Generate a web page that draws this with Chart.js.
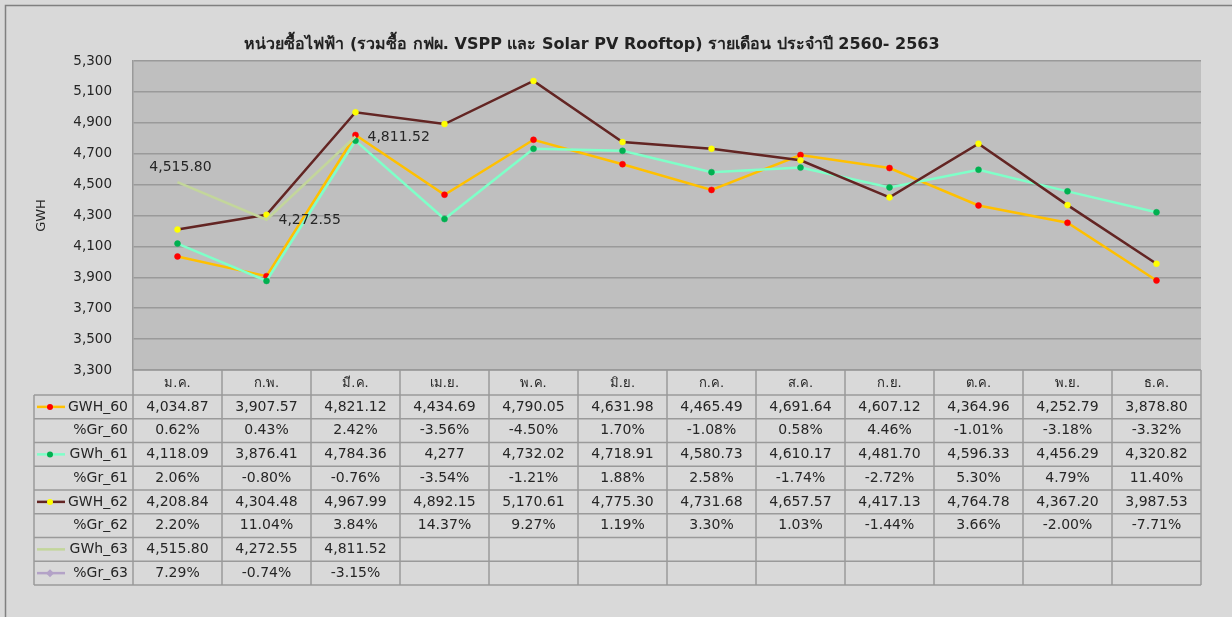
<!doctype html>
<html>
<head>
    <title>หน่วยซื้อไฟฟ้า</title>
    <script src="https://cdn.jsdelivr.net/npm/chart.js@4/dist/chart.umd.min.js"></script>
    <style>
    body{
        margin: 0;
        background: #d9d9d9;
        font-family: "DejaVu Sans", Tahoma, sans-serif;
    }
    </style>
</head>
<body>
    <canvas id="chart-area" width="1232" height="617"></canvas>
    <script>
    // data
    var months = ['ม.ค.','ก.พ.','มี.ค.','เม.ย.','พ.ค.','มิ.ย.','ก.ค.','ส.ค.','ก.ย.','ต.ค.','พ.ย.','ธ.ค.'];
    var gwh60 = [4034.87,3907.57,4821.12,4434.69,4790.05,4631.98,4465.49,4691.64,4607.12,4364.96,4252.79,3878.80];
    var gr60  = [0.62,0.43,2.42,-3.56,-4.50,1.70,-1.08,0.58,4.46,-1.01,-3.18,-3.32];
    var gwh61 = [4118.09,3876.41,4784.36,4277,4732.02,4718.91,4580.73,4610.17,4481.70,4596.33,4456.29,4320.82];
    var gr61  = [2.06,-0.80,-0.76,-3.54,-1.21,1.88,2.58,-1.74,-2.72,5.30,4.79,11.40];
    var gwh62 = [4208.84,4304.48,4967.99,4892.15,5170.61,4775.30,4731.68,4657.57,4417.13,4764.78,4367.20,3987.53];
    var gr62  = [2.20,11.04,3.84,14.37,9.27,1.19,3.30,1.03,-1.44,3.66,-2.00,-7.71];
    var gwh63 = [4515.80,4272.55,4811.52];
    var gr63  = [7.29,-0.74,-3.15];

    var titleText = 'หน่วยซื้อไฟฟ้า (รวมซื้อ กฟผ. VSPP และ Solar PV Rooftop) รายเดือน ประจำปี 2560- 2563';
    var FONT = '"DejaVu Sans", Tahoma, sans-serif';

    var C60 = '#ffc000', M60 = '#ff0000';
    var C61 = '#7fffc8', M61 = '#00b050';
    var C62 = '#632523', M62 = '#ffff00';
    var C63 = '#c3d69b';
    var C63g = '#b3a2c7';

    function fmtGwh(v){
        if (Number.isInteger(v)) return v.toLocaleString('en-US');
        return v.toLocaleString('en-US', {minimumFractionDigits: 2, maximumFractionDigits: 2});
    }
    function fmtPct(v){
        return v.toFixed(2) + '%';
    }

    // rows of the data table, label + legend key
    var tableRows = [
        {label: 'GWH_60', vals: gwh60, fmt: fmtGwh, line: C60, marker: M60, shape: 'circle'},
        {label: '%Gr_60', vals: gr60, fmt: fmtPct},
        {label: 'GWh_61', vals: gwh61, fmt: fmtGwh, line: C61, marker: M61, shape: 'circle'},
        {label: '%Gr_61', vals: gr61, fmt: fmtPct},
        {label: 'GWH_62', vals: gwh62, fmt: fmtGwh, line: C62, marker: M62, shape: 'circle'},
        {label: '%Gr_62', vals: gr62, fmt: fmtPct},
        {label: 'GWh_63', vals: gwh63, fmt: fmtGwh, line: C63},
        {label: '%Gr_63', vals: gr63, fmt: fmtPct, line: C63g, marker: C63g, shape: 'diamond'}
    ];

    var bgPlugin = {
        id: 'bg',
        beforeDraw: function(chart){
            var ctx = chart.ctx, a = chart.chartArea;
            ctx.save();
            ctx.fillStyle = '#d9d9d9';
            ctx.fillRect(0, 0, chart.width, chart.height);
            ctx.fillStyle = '#bfbfbf';
            ctx.fillRect(a.left, a.top, a.right - a.left, a.bottom - a.top);
            ctx.strokeStyle = '#808080';
            ctx.lineWidth = 1.5;
            ctx.beginPath();
            ctx.moveTo(5.5, chart.height + 2);
            ctx.lineTo(5.5, 5.5);
            ctx.lineTo(chart.width + 2, 5.5);
            ctx.stroke();
            ctx.restore();
        },
        afterDraw: function(chart){
            var ctx = chart.ctx, a = chart.chartArea, xs = chart.scales.x, ys = chart.scales.y;
            ctx.save();
            // title
            ctx.fillStyle = '#222';
            ctx.font = 'bold 16px ' + FONT;
            ctx.textAlign = 'center';
            ctx.textBaseline = 'middle';
            ctx.fillText(titleText, 592, 45);

            // data labels of GWh_63
            ctx.font = '14px ' + FONT;
            ctx.fillStyle = '#262626';
            gwh63.forEach(function(v, i){
                var px = xs.getPixelForValue(i), py = ys.getPixelForValue(v);
                if (i === 0) {
                    ctx.textAlign = 'center';
                    ctx.fillText(fmtGwh(v), px + 3, py - 15);
                } else {
                    ctx.textAlign = 'left';
                    ctx.fillText(fmtGwh(v), px + 12, py + 1);
                }
            });

            // data table
            var colW = (a.right - a.left) / months.length;
            var headTop = a.bottom, headH = 25, rowH = 23.75;
            var labelLeft = 34;
            var tableBottom = headTop + headH + rowH * tableRows.length;
            ctx.strokeStyle = '#9a9a9a';
            ctx.lineWidth = 1.5;
            ctx.beginPath();
            // horizontal lines
            ctx.moveTo(a.left, headTop); ctx.lineTo(a.right, headTop);
            for (var r = 0; r <= tableRows.length; r++) {
                var y = headTop + headH + r * rowH;
                ctx.moveTo(labelLeft, y); ctx.lineTo(a.right, y);
            }
            // vertical lines
            ctx.moveTo(labelLeft, headTop + headH); ctx.lineTo(labelLeft, tableBottom);
            for (var c = 0; c <= months.length; c++) {
                var x = a.left + c * colW;
                ctx.moveTo(x, headTop); ctx.lineTo(x, tableBottom);
            }
            ctx.stroke();

            ctx.fillStyle = '#262626';
            ctx.textBaseline = 'middle';
            ctx.textAlign = 'center';
            ctx.font = '13px ' + FONT;
            months.forEach(function(m, i){
                ctx.fillText(m, xs.getPixelForValue(i), headTop + headH / 2 + 1);
            });
            ctx.font = '14px ' + FONT;
            tableRows.forEach(function(row, r){
                var cy = headTop + headH + r * rowH + rowH / 2;
                row.vals.forEach(function(v, i){
                    ctx.textAlign = 'center';
                    ctx.fillText(row.fmt(v), xs.getPixelForValue(i), cy);
                });
                ctx.textAlign = 'right';
                ctx.fillText(row.label, 128, cy);
                if (row.line) {
                    ctx.strokeStyle = row.line;
                    ctx.lineWidth = 2.5;
                    ctx.beginPath();
                    ctx.moveTo(37, cy); ctx.lineTo(65, cy);
                    ctx.stroke();
                }
                if (row.marker) {
                    ctx.fillStyle = row.marker;
                    ctx.beginPath();
                    if (row.shape === 'diamond') {
                        ctx.moveTo(50, cy - 4); ctx.lineTo(54, cy); ctx.lineTo(50, cy + 4); ctx.lineTo(46, cy);
                        ctx.closePath();
                    } else {
                        ctx.arc(50, cy, 3, 0, Math.PI * 2);
                    }
                    ctx.fill();
                    ctx.fillStyle = '#262626';
                }
            });
            ctx.restore();
        }
    };

    var config = {
        type: 'line',
        data: {
            labels: months,
            datasets: [{
                label: 'GWH_60',
                data: gwh60,
                borderColor: C60,
                borderWidth: 2.5,
                pointBackgroundColor: M60,
                pointBorderColor: M60,
                pointRadius: 3,
                pointBorderWidth: 0.5,
                tension: 0,
                order: 3
            },{
                label: 'GWh_61',
                data: gwh61,
                borderColor: C61,
                borderWidth: 2.5,
                pointBackgroundColor: M61,
                pointBorderColor: M61,
                pointRadius: 3,
                pointBorderWidth: 0.5,
                tension: 0,
                order: 2
            },{
                label: 'GWH_62',
                data: gwh62,
                borderColor: C62,
                borderWidth: 2.5,
                pointBackgroundColor: M62,
                pointBorderColor: M62,
                pointRadius: 3,
                pointBorderWidth: 0.5,
                tension: 0,
                order: 1
            },{
                label: 'GWh_63',
                data: gwh63,
                borderColor: C63,
                borderWidth: 2.5,
                pointRadius: 0,
                tension: 0,
                order: 0
            }]
        },
        options: {
            responsive: false,
            animation: false,
            layout: {
                padding: {top: 61, right: 31, bottom: 247, left: 0}
            },
            plugins: {
                legend: {display: false},
                tooltip: {enabled: false}
            },
            scales: {
                x: {
                    display: false,
                    offset: true
                },
                y: {
                    min: 3300,
                    max: 5300,
                    afterFit: function(scale){ scale.width = 133; },
                    ticks: {
                        stepSize: 200,
                        padding: 21,
                        color: '#262626',
                        font: {family: FONT, size: 13.5},
                        callback: function(v){ return v.toLocaleString('en-US'); }
                    },
                    grid: {
                        color: '#9a9a9a',
                        lineWidth: 1.5,
                        drawTicks: false
                    },
                    border: {color: '#9a9a9a', width: 1.5},
                    title: {
                        display: true,
                        text: 'GWH',
                        color: '#262626',
                        font: {family: FONT, size: 13},
                        padding: {top: 34, bottom: 0}
                    }
                }
            }
        },
        plugins: [bgPlugin]
    };

    window.onload = function() {
        var ctx = document.getElementById('chart-area').getContext('2d');
        window.myLine = new Chart(ctx, config);
    };
    </script>
</body>
</html>
